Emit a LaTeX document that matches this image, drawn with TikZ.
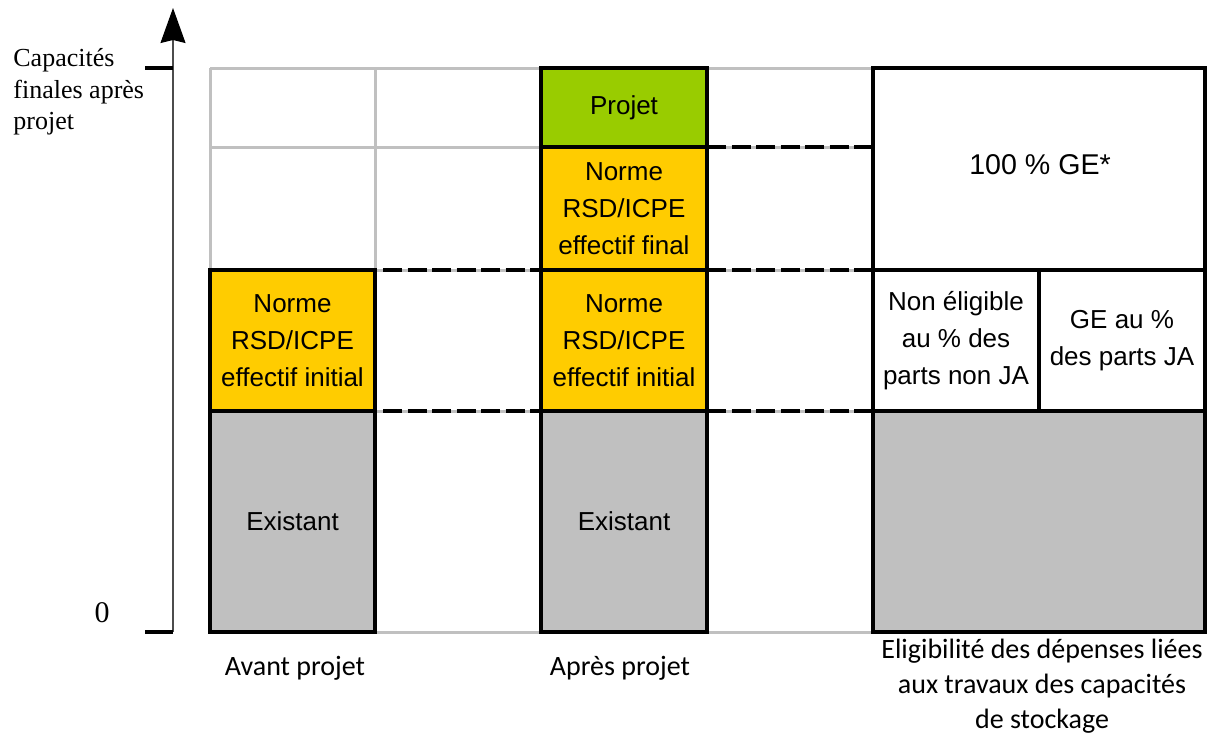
\documentclass[tikz,border=0pt]{standalone}
\usepackage{fontspec}
\setmainfont{Liberation Serif}
\setsansfont{Liberation Sans}
\newfontfamily\labelfont{Carlito}
\usetikzlibrary{arrows.meta,positioning}

\begin{document}
\begin{tikzpicture}[x=0.5pt, y=-0.5pt, every node/.style={font=\sffamily\fontsize{13}{18.5}\selectfont}]
  % Define colors
  \definecolor{existgray}{RGB}{192,192,192}
  \definecolor{normeyellow}{RGB}{255,204,0}
  \definecolor{projetgreen}{RGB}{153,204,0}
  \definecolor{gridgray}{RGB}{192,192,192}

  % Styles
  \tikzstyle{cell} = [draw=black, line width=1.6pt, inner sep=0pt, outer sep=0pt, align=center]
  \tikzstyle{exist_cell} = [cell, fill=existgray, minimum height=110.5pt]
  \tikzstyle{norme_cell} = [cell, fill=normeyellow]
  \tikzstyle{projet_cell} = [cell, fill=projetgreen, minimum height=39.5pt]
  \tikzstyle{ge_cell} = [cell, fill=white]
  \tikzstyle{grid_line} = [draw=gridgray, line width=1.5pt]
  \tikzstyle{level_line} = [draw=black, line width=2pt, dash pattern=on 9.5pt off 2.75pt]
  \tikzstyle{axis_label} = [font=\rmfamily\fontsize{13}{15.8}\selectfont, align=left]
  \tikzstyle{col_label} = [font=\labelfont\fontsize{14}{17.5}\selectfont, align=center]

  \useasboundingbox (0,0) rectangle (1213,735);

  % Background grid
  \foreach \gx in {210,375,541,707,873,1205}
    \draw[grid_line] (\gx,68) -- (\gx,632);
  \foreach \gy in {68,147,270,411,632}
    \draw[grid_line] (210,\gy) -- (1205,\gy);

  % Vertical axis
  \coordinate (axis_bottom) at (173,632);
  \coordinate (axis_top) at (173,8);
  \draw[line width=0.6pt, black!70, -{Stealth[length=17.5pt, width=12.5pt, inset=1.5pt, black]}] (axis_bottom) -- (axis_top);
  \draw[line width=1.6pt] (145,68) -- (173,68);
  \draw[line width=1.6pt] (145,632) -- (axis_bottom);
  \node[axis_label, anchor=west, inner sep=0pt] (cap) at (13,92) {Capacités\\finales après\\projet};
  \node[axis_label, font=\rmfamily\fontsize{15}{16}\selectfont] (zero) at (102,613) {0};

  % Avant projet
  \node[exist_cell, minimum width=82.5pt] (av_exist) at (292.5,521.5) {Existant};
  \node[norme_cell, minimum width=82.5pt, minimum height=70.5pt] (av_init) at (292.5,340.5) {Norme\\RSD/ICPE\\effectif initial};

  % Apres projet
  \node[exist_cell, minimum width=83pt] (ap_exist) at (624,521.5) {Existant};
  \node[norme_cell, minimum width=83pt, minimum height=70.5pt] (ap_init) at (624,340.5) {Norme\\RSD/ICPE\\effectif initial};
  \node[norme_cell, minimum width=83pt, minimum height=61.5pt] (ap_final) at (624,208.5) {Norme\\RSD/ICPE\\effectif final};
  \node[projet_cell, minimum width=83pt] (ap_projet) at (624,107.5) {Projet};

  % Eligibilite
  \node[exist_cell, minimum width=166pt] (el_stock) at (1039,521.5) {};
  \node[ge_cell, minimum width=83pt, minimum height=70.5pt] (el_nonja) at (956,340.5) {Non éligible\\au \% des\\parts non JA};
  \node[ge_cell, minimum width=83pt, minimum height=70.5pt] (el_ja) at (1122,340.5) {GE au \%\\des parts JA};
  \node[ge_cell, minimum width=166pt, minimum height=101pt] (el_ge) at (1039,169) {};
  \node (el_ge_text) at (1040,165) {\fontsize{14.3}{18.5}\selectfont 100 \% GE*};

  % Dashed levels
  \draw[level_line] ([xshift=4pt]av_init.north east) -- (av_init.north east -| ap_init.west);
  \draw[level_line] ([xshift=4pt]av_init.south east) -- (av_init.south east -| ap_init.west);
  \draw[level_line] (ap_final.north east) -- (ap_final.north east -| el_ge.west);
  \draw[level_line] (ap_final.south east) -- (ap_final.south east -| el_nonja.west);
  \draw[level_line] (ap_init.south east) -- (ap_init.south east -| el_stock.west);

  % Column labels
  \node[col_label] (lab_avant) at (295,668) {Avant projet};
  \node[col_label] (lab_apres) at (620,668) {Après projet};
  \node[col_label] (lab_elig) at (1042,686) {Eligibilité des dépenses liées\\aux travaux des capacités\\de stockage};

\end{tikzpicture}
\end{document}
